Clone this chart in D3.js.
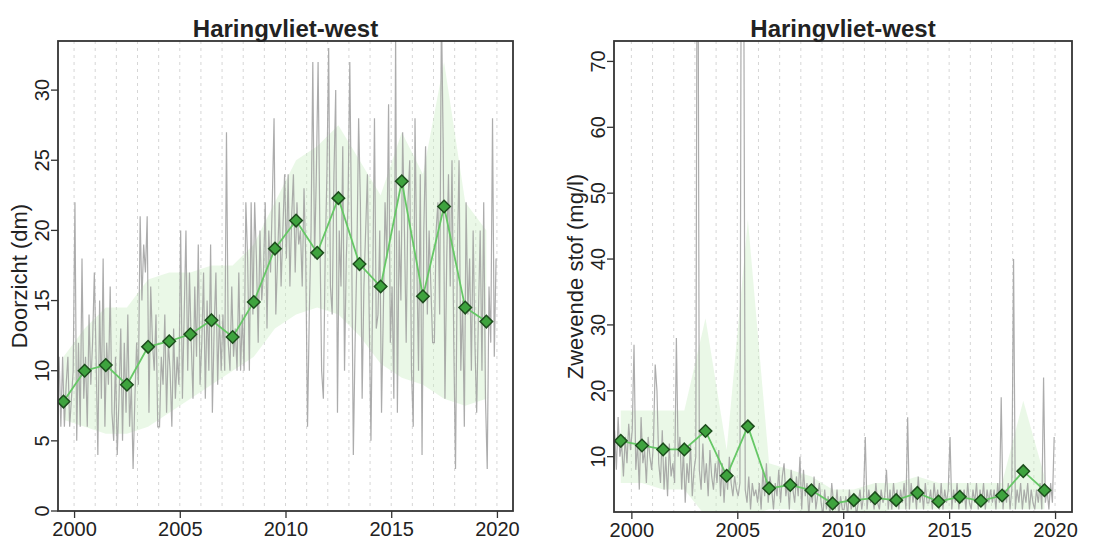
<!DOCTYPE html>
<html>
<head>
<meta charset="utf-8">
<script src="https://cdn.jsdelivr.net/npm/d3@7"></script>
<style>
  html, body { margin: 0; padding: 0; background: #fff; }
  svg { display: block; }
  text { font-family: "Liberation Sans", Arial, sans-serif; fill: #222; }
</style>
</head>
<body>
<svg id="chart" width="1110" height="541"></svg>
<script>
// ---------- data ----------
const titleText = "Haringvliet-west";
const years = [1999,2000,2001,2002,2003,2004,2005,2006,2007,2008,2009,2010,2011,2012,2013,2014,2015,2016,2017,2018,2019];
const xTicks = [2000, 2005, 2010, 2015, 2020];
const gridYears = [2000,2001,2002,2003,2004,2005,2006,2007,2008,2009,2010,2011,2012,2013,2014,2015,2016,2017,2018,2019,2020];

// Doorzicht (dm)
const doorzichtTicks = [0, 5, 10, 15, 20, 25, 30];
const doorzichtMean = [7.8, 10.0, 10.4, 9.0, 11.7, 12.1, 12.6, 13.6, 12.4, 14.9, 18.7, 20.7, 18.4, 22.3, 17.6, 16.0, 23.5, 15.3, 21.7, 14.5, 13.5];
const doorzichtLo   = [6.5, 6.0, 5.5, 5.5, 6.0, 7.0, 8.0, 9.0, 10.0, 11.0, 13.0, 14.0, 14.5, 14.0, 12.5, 10.5, 9.5, 9.0, 8.0, 7.5, 8.0];
const doorzichtHi   = [11.0, 13.0, 14.5, 14.5, 16.5, 17.0, 17.0, 17.5, 17.5, 19.0, 22.0, 25.0, 26.0, 27.5, 25.0, 22.5, 27.0, 24.0, 32.0, 22.0, 20.0];
const doorzichtRaw = [
  [9, 8, 7, 11, 6, 11, 6, 9, 11, 6, 8, 10],
  [22, 5, 12, 6, 18, 8, 11, 6, 14, 9, 12, 17],
  [11, 4, 15, 8, 18, 6, 12, 9, 16, 7, 5, 11],
  [4, 8, 13, 5, 12, 7, 14, 6, 9, 3, 8, 12],
  [9, 21, 15, 19, 17, 21, 7, 16, 12, 10, 14, 6],
  [6, 11, 9, 14, 7, 12, 10, 6, 13, 8, 11, 9],
  [20, 8, 14, 20, 10, 17, 12, 8, 16, 11, 19, 9],
  [12, 17, 8, 15, 10, 19, 7, 13, 17, 9, 14, 10],
  [14, 10, 27, 12, 10, 16, 11, 13, 10, 17, 10, 14],
  [10, 22, 18, 10, 22, 14, 22, 18, 12, 20, 15, 17],
  [22, 13, 20, 17, 22, 28, 14, 18, 22, 16, 20, 24],
  [18, 24, 16, 21, 24, 17, 22, 19, 20, 16, 23, 18],
  [6, 14, 20, 32, 18, 24, 32, 20, 10, 8, 18, 24],
  [33, 16, 14, 24, 30, 7, 20, 16, 26, 10, 18, 22],
  [32, 20, 4, 12, 18, 28, 22, 8, 16, 20, 24, 14],
  [5, 16, 28, 13, 14, 20, 7, 14, 22, 18, 29, 12],
  [16, 8, 34, 7, 20, 15, 27, 20, 12, 22, 25, 10],
  [6, 28, 18, 10, 24, 4, 20, 26, 14, 20, 16, 12],
  [12, 20, 22, 14, 36, 26, 8, 18, 24, 16, 25, 12],
  [3, 18, 25, 10, 15, 6, 22, 14, 18, 10, 20, 12],
  [7, 14, 20, 10, 22, 8, 3, 16, 12, 28, 11, 18]
];

// Zwevende stof (mg/l)
const zwevendTicks = [10, 20, 30, 40, 50, 60, 70];
const zwevendMean = [12.4, 11.7, 11.1, 11.1, 13.9, 7.1, 14.6, 5.2, 5.7, 4.9, 2.9, 3.4, 3.7, 3.4, 4.5, 3.2, 3.9, 3.3, 4.1, 7.8, 4.9];
const zwevendLo   = [6, 6, 5, 5, 1, 1, 1, 2, 2, 1.5, 1.5, 1.5, 1.5, 2, 2, 2, 2, 2, 2, 2, 2];
const zwevendHi   = [17, 17, 17, 17, 31, 11, 46, 9, 8, 7, 5, 5, 6, 6, 7, 6, 6, 6, 6, 18.5, 7];
const zwevendRaw = [
  [19, 9, 14, 8, 16, 10, 12, 7, 13, 9, 15, 11],
  [14, 27, 8, 12, 5, 16, 9, 11, 6, 13, 10, 8],
  [12, 24, 20, 9, 6, 14, 5, 10, 4, 12, 7, 9],
  [6, 28, 10, 13, 5, 11, 3, 9, 6, 12, 4, 8],
  [10, 120, 8, 5, 12, 6, 9, 4, 11, 7, 5, 9],
  [6, 11, 4, 9, 3, 8, 5, 10, 6, 4, 7, 5],
  [4, 6, 120, 100, 5, 3, 7, 2, 6, 4, 5, 3],
  [6, 2, 8, 4, 9, 3, 7, 5, 2, 6, 4, 8],
  [3, 7, 9, 4, 6, 2, 8, 5, 3, 7, 4, 10],
  [2, 8, 4, 6, 1, 5, 3, 7, 2, 4, 6, 3],
  [1, 5, 2, 4, 1, 6, 3, 2, 5, 1, 4, 2],
  [2, 4, 1, 5, 2, 3, 4, 1, 3, 5, 2, 4],
  [13, 2, 5, 3, 4, 2, 6, 3, 2, 5, 3, 4],
  [8, 2, 5, 2, 6, 3, 5, 2, 5, 3, 6, 2],
  [16, 2, 6, 3, 5, 2, 7, 3, 5, 2, 6, 3],
  [3, 5, 2, 6, 3, 5, 2, 6, 2, 5, 3, 5],
  [13, 2, 5, 3, 6, 2, 5, 3, 5, 2, 6, 3],
  [2, 5, 3, 6, 2, 5, 3, 6, 2, 5, 3, 5],
  [3, 5, 2, 6, 3, 19, 2, 5, 3, 6, 2, 5],
  [40, 2, 5, 3, 6, 2, 5, 3, 6, 2, 5, 3],
  [2, 5, 3, 6, 2, 22, 3, 5, 2, 6, 3, 13]
];

// ---------- drawing ----------
const svg = d3.select("#chart");
svg.append("rect").attr("width", 1110).attr("height", 541).attr("fill", "#fff");

function panel(cfg) {
  const { id, left, right, top, bottom, xDomain, yDomain, yTicks, yLabel, mean, lo, hi, raw, tickX, labelX } = cfg;
  const x = d3.scaleLinear().domain(xDomain).range([left, right]);
  const y = d3.scaleLinear().domain(yDomain).range([bottom, top]);
  const g = svg.append("g");

  g.append("clipPath").attr("id", "clip" + id)
    .append("rect").attr("x", left).attr("y", top).attr("width", right - left).attr("height", bottom - top);
  const inner = g.append("g").attr("clip-path", `url(#clip${id})`);

  // dotted year grid
  inner.selectAll("line.grid").data(gridYears).join("line")
    .attr("x1", d => x(d)).attr("x2", d => x(d))
    .attr("y1", top).attr("y2", bottom)
    .attr("stroke", "#d6d6d6").attr("stroke-width", 1).attr("stroke-dasharray", "3,4");

  // band
  const bandData = years.map((yr, i) => ({ t: yr + 0.5, lo: lo[i], hi: hi[i] }));
  inner.append("path").datum(bandData)
    .attr("d", d3.area().x(d => x(d.t)).y0(d => y(d.lo)).y1(d => y(d.hi)))
    .attr("fill", "#cdeec6").attr("fill-opacity", 0.42);

  // raw measurements
  const rawPts = [];
  years.forEach((yr, i) => raw[i].forEach((v, k) => rawPts.push({ t: yr + (k + 0.5) / raw[i].length, v })));
  inner.append("path").datum(rawPts)
    .attr("d", d3.line().x(d => x(d.t)).y(d => y(d.v)))
    .attr("fill", "none").attr("stroke", "#a0a0a0").attr("stroke-width", 1.2).attr("stroke-opacity", 0.88);

  // yearly mean line
  const meanPts = years.map((yr, i) => ({ t: yr + 0.5, v: mean[i] }));
  inner.append("path").datum(meanPts)
    .attr("d", d3.line().x(d => x(d.t)).y(d => y(d.v)))
    .attr("fill", "none").attr("stroke", "#66c766").attr("stroke-width", 1.8);

  inner.selectAll("path.mk").data(meanPts).join("path")
    .attr("d", d3.symbol().type(d3.symbolDiamond2).size(100))
    .attr("transform", d => `translate(${x(d.t)},${y(d.v)})`)
    .attr("fill", "#3ea33e").attr("stroke", "#1d4d1d").attr("stroke-width", 1.5);

  // box
  g.append("rect").attr("x", left).attr("y", top).attr("width", right - left).attr("height", bottom - top)
    .attr("fill", "none").attr("stroke", "#333").attr("stroke-width", 1.8);

  // x axis
  const xa = g.append("g").attr("transform", `translate(0,${bottom})`)
    .call(d3.axisBottom(x).tickValues(xTicks).tickFormat(d3.format("d")).tickSize(7).tickPadding(4));
  xa.select(".domain").remove();
  xa.selectAll("line").attr("stroke", "#333").attr("stroke-width", 1.3);
  xa.selectAll("text").attr("font-size", 20).attr("fill", "#222").attr("font-family", "Liberation Sans, Arial, sans-serif");

  // y axis
  const ya = g.append("g").attr("transform", `translate(${left},0)`)
    .call(d3.axisLeft(y).tickValues(yTicks).tickFormat(d3.format("d")).tickSize(7));
  ya.select(".domain").remove();
  ya.selectAll("line").attr("stroke", "#333").attr("stroke-width", 1.3);
  ya.selectAll("text")
    .attr("font-size", 20).attr("fill", "#222").attr("font-family", "Liberation Sans, Arial, sans-serif")
    .attr("text-anchor", "middle").attr("dy", null)
    .attr("x", 0).attr("y", 0)
    .attr("transform", function(d) { return `translate(${tickX - left},${y(d)}) rotate(-90)`; });
  ya.selectAll(".tick").attr("transform", null);
  ya.selectAll(".tick line").attr("y1", d => y(d)).attr("y2", d => y(d)).attr("x2", -7);

  // y label
  g.append("text").attr("transform", `translate(${labelX},${(top + bottom) / 2}) rotate(-90)`)
    .attr("text-anchor", "middle").attr("font-size", 22).text(yLabel);

  // title
  g.append("text").attr("x", (left + right) / 2).attr("y", 37)
    .attr("text-anchor", "middle").attr("font-size", 24).attr("font-weight", "bold").text(titleText);
}

panel({
  id: "L", left: 58, right: 513, top: 41, bottom: 511,
  xDomain: [1999.24, 2020.76], yDomain: [0, 33.5], yTicks: doorzichtTicks,
  yLabel: "Doorzicht (dm)", mean: doorzichtMean, lo: doorzichtLo, hi: doorzichtHi, raw: doorzichtRaw,
  tickX: 49, labelX: 27
});
panel({
  id: "R", left: 614, right: 1072, top: 41, bottom: 512,
  xDomain: [1999.18, 2020.8], yDomain: [1.6, 73.1], yTicks: zwevendTicks,
  yLabel: "Zwevende stof (mg/l)", mean: zwevendMean, lo: zwevendLo, hi: zwevendHi, raw: zwevendRaw,
  tickX: 605, labelX: 583
});
</script>
</body>
</html>
